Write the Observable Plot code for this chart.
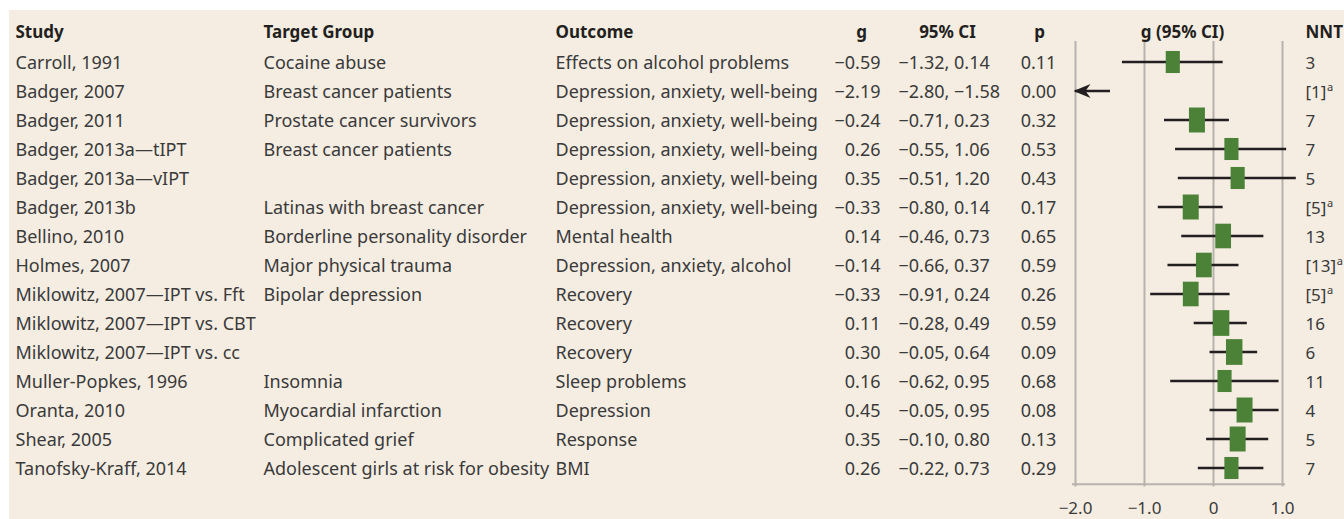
<!DOCTYPE html>
<html>
<head>
<meta charset="utf-8">
<script src="https://cdn.jsdelivr.net/npm/d3@7"></script>
<script src="https://cdn.jsdelivr.net/npm/@observablehq/plot@0.6"></script>
<style>
  html, body { margin: 0; padding: 0; background: #ffffff; }
  #wrap { position: relative; width: 1344px; height: 519px; overflow: hidden; }
  #panel { position: absolute; left: 9px; top: 10px; right: 0; bottom: 0; background: #f5ede2; }
  #wrap svg { position: absolute; left: 0; top: 0; }
</style>
</head>
<body>
<div id="wrap"><div id="panel"></div></div>
<script>
// ---------- data ----------
const studies = [
  "Carroll, 1991", "Badger, 2007", "Badger, 2011", "Badger, 2013a—tIPT", "Badger, 2013a—vIPT",
  "Badger, 2013b", "Bellino, 2010", "Holmes, 2007", "Miklowitz, 2007—IPT vs. Fft",
  "Miklowitz, 2007—IPT vs. CBT", "Miklowitz, 2007—IPT vs. cc", "Muller-Popkes, 1996",
  "Oranta, 2010", "Shear, 2005", "Tanofsky-Kraff, 2014"
];
const targetGroups = [
  "Cocaine abuse", "Breast cancer patients", "Prostate cancer survivors", "Breast cancer patients", "",
  "Latinas with breast cancer", "Borderline personality disorder", "Major physical trauma", "Bipolar depression",
  "", "", "Insomnia", "Myocardial infarction", "Complicated grief", "Adolescent girls at risk for obesity"
];
const outcomes = [
  "Effects on alcohol problems", "Depression, anxiety, well-being", "Depression, anxiety, well-being",
  "Depression, anxiety, well-being", "Depression, anxiety, well-being", "Depression, anxiety, well-being",
  "Mental health", "Depression, anxiety, alcohol", "Recovery", "Recovery", "Recovery",
  "Sleep problems", "Depression", "Response", "BMI"
];
const gValues = [-0.59, -2.19, -0.24, 0.26, 0.35, -0.33, 0.14, -0.14, -0.33, 0.11, 0.30, 0.16, 0.45, 0.35, 0.26];
const ciLow   = [-1.32, -2.80, -0.71, -0.55, -0.51, -0.80, -0.46, -0.66, -0.91, -0.28, -0.05, -0.62, -0.05, -0.10, -0.22];
const ciHigh  = [0.14, -1.58, 0.23, 1.06, 1.20, 0.14, 0.73, 0.37, 0.24, 0.49, 0.64, 0.95, 0.95, 0.80, 0.73];
const pValues = [0.11, 0.00, 0.32, 0.53, 0.43, 0.17, 0.65, 0.59, 0.26, 0.59, 0.09, 0.68, 0.08, 0.13, 0.29];
const nntValues = ["3", "[1]", "7", "7", "5", "[5]", "13", "[13]", "[5]", "16", "6", "11", "4", "5", "7"];
const nntNotes  = ["", "a", "", "", "", "a", "", "a", "a", "", "", "", "", "", ""];
// relative study weight (drives marker area)
const weights = [0.78, 0, 1.0, 0.78, 0.78, 1.0, 0.97, 0.97, 0.97, 1.06, 1.06, 0.78, 1.0, 1.0, 0.78];
const xDomain = [-2, 1];
const xTicks = [-2, -1, 0, 1];
const xTickLabels = ["−2.0", "−1.0", "0", "1.0"];

// ---------- table built from arrays ----------
const SEP = "\u2063"; // invisible separator marking a footnote
const fmt = v => (v < 0 ? "−" : "") + Math.abs(v).toFixed(2);
const rows = studies.map((s, i) => ({
  study: s, target: targetGroups[i], outcome: outcomes[i],
  g: gValues[i], lo: ciLow[i], hi: ciHigh[i], p: pValues[i],
  nnt: nntNotes[i] ? nntValues[i] + SEP + nntNotes[i] : nntValues[i], weight: weights[i],
  gText: fmt(gValues[i]), ciText: `${fmt(ciLow[i])}, ${fmt(ciHigh[i])}`, pText: pValues[i].toFixed(2)
}));
const ticks = xTicks.map((t, i) => ({t, label: xTickLabels[i]}));

// ---------- styles / layout ----------
const ink = "#231f20", textColor = "#3a3a3a", grid = "#b8b2ac", green = "#4b8237";
const rowDy = 1.2;
const columns = [
  {key: "study",   header: "Study",        dx: 15,   anchor: "start",  hdx: 15,   hanchor: "start",  size: 18},
  {key: "target",  header: "Target Group", dx: 263,  anchor: "start",  hdx: 263,  hanchor: "start",  size: 18},
  {key: "outcome", header: "Outcome",      dx: 555,  anchor: "start",  hdx: 555,  hanchor: "start",  size: 18},
  {key: "gText",   header: "g",            dx: 880,  anchor: "end",    hdx: 861,  hanchor: "middle", size: 18},
  {key: "ciText",  header: "95% CI",       dx: 898,  anchor: "start",  hdx: 947,  hanchor: "middle", size: 18},
  {key: "pText",   header: "p",            dx: 1038, anchor: "middle", hdx: 1039, hanchor: "middle", size: 18},
  {key: "nnt",     header: "NNT",          dx: 1305, anchor: "start",  hdx: 1305, hanchor: "start",  size: 17}
];

// marker shapes
const box = {
  draw(ctx, size) {
    const w = Math.sqrt(size * 16 / 25), h = Math.sqrt(size * 25 / 16);
    ctx.moveTo(-w / 2, -h / 2); ctx.lineTo(w / 2, -h / 2); ctx.lineTo(w / 2, h / 2); ctx.lineTo(-w / 2, h / 2); ctx.closePath();
  }
};
const arrowHead = {
  draw(ctx) {
    ctx.moveTo(0, 0); ctx.lineTo(17, -7); ctx.lineTo(12, 0); ctx.lineTo(17, 7); ctx.closePath();
  }
};

const inRange = rows.filter(d => d.lo >= xDomain[0]);
const offLeft = rows.filter(d => d.lo < xDomain[0]);
const bandH = (485 - 44) / studies.length;

const chart = Plot.plot({
  width: 1344, height: 519,
  marginLeft: 0, marginRight: 0, marginTop: 41, marginBottom: 32.5,
  style: {background: "transparent", fontFamily: '"Noto Sans", sans-serif', fontSize: "18px", color: textColor, overflow: "visible"},
  x: {domain: xDomain, range: [1075, 1282], axis: null},
  y: {type: "band", domain: studies, range: [44, 485], padding: 0, axis: null},
  r: {type: "sqrt", domain: [0, 1], range: [0, 11.28]},
  marks: [
    // grid lines
    Plot.ruleX(xTicks, {x: d => d, stroke: grid, strokeWidth: 2}),
    // axis line
    Plot.ruleY([rows[rows.length - 1]], {y: "study", x1: xDomain[0], x2: xDomain[1], dy: bandH / 2 + 1.5,
      insetLeft: -3, insetRight: -3, stroke: grid, strokeWidth: 2}),
    // tick labels
    Plot.text(ticks, {x: "t", text: "label", frameAnchor: "bottom", lineAnchor: "middle", dy: 22, fontSize: 17, fill: textColor}),
    // CIs
    Plot.ruleY(inRange, {y: "study", x1: "lo", x2: "hi", stroke: ink, strokeWidth: 2.4}),
    // off-scale arrow
    Plot.ruleY(offLeft, {y: "study", x1: "hi", x2: xDomain[0], insetLeft: 6, stroke: ink, strokeWidth: 2.6}),
    Plot.dot(offLeft, {x: xDomain[0], y: "study", symbol: arrowHead, r: 8, fill: ink, stroke: "none", dx: -2}),
    // point estimates
    Plot.dot(rows.filter(d => d.g >= xDomain[0]), {x: "g", y: "study", r: "weight", symbol: box, fill: green, stroke: "none"}),
    // table columns
    ...columns.map(c => Plot.text(rows, {
      y: "study", text: c.key, frameAnchor: "left", textAnchor: c.anchor, lineAnchor: "middle",
      dx: c.dx, dy: rowDy, fill: textColor, fontSize: c.size
    })),
    // headers
    ...columns.map(c => Plot.text([c.header], {
      text: d => d, frameAnchor: "top-left", textAnchor: c.hanchor, lineAnchor: "middle",
      dx: c.hdx, dy: -9.3, fill: ink, fontWeight: "bold", fontSize: 17
    })),
    Plot.text(["g (95% CI)"], {text: d => d, frameAnchor: "top-left", textAnchor: "middle", lineAnchor: "middle",
      dx: 1182, dy: -9.3, fill: ink, fontWeight: "bold", fontSize: 17})
  ]
});

// superscript footnote markers on NNT values
chart.querySelectorAll("text").forEach(el => {
  const s = el.textContent;
  if (!s.includes(SEP)) return;
  const [main, note] = s.split(SEP);
  el.textContent = main;
  const ts = document.createElementNS("http://www.w3.org/2000/svg", "tspan");
  ts.setAttribute("font-size", "11px");
  ts.setAttribute("dy", "-6.2");
  ts.setAttribute("dx", "0.5");
  ts.textContent = note;
  el.appendChild(ts);
});

document.getElementById("wrap").appendChild(chart);
</script>
</body>
</html>
